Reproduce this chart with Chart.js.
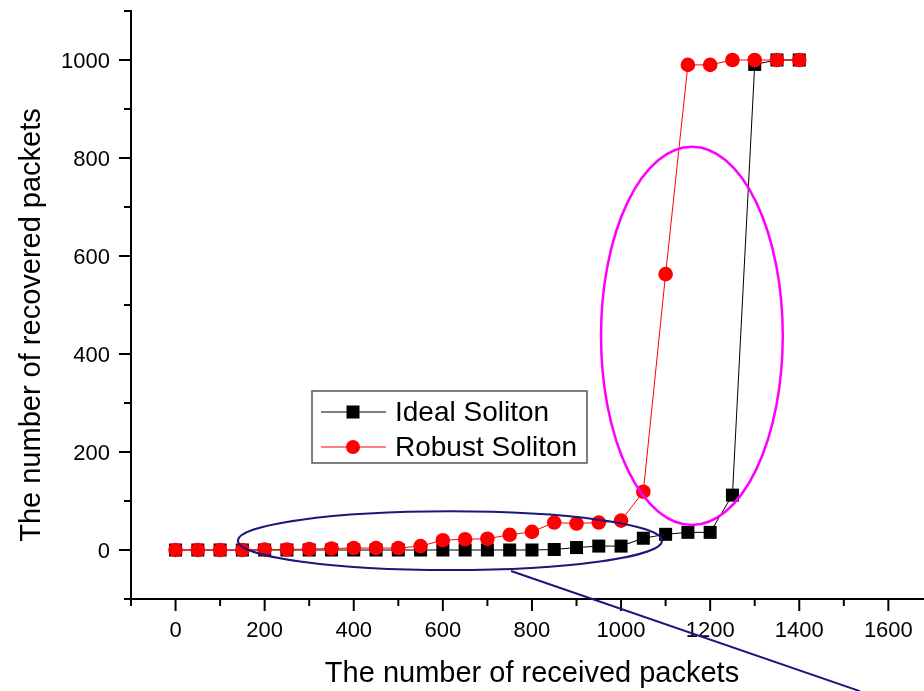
<!DOCTYPE html>
<html>
<head>
<meta charset="utf-8">
<title>Recovered packets</title>
<script src="https://cdn.jsdelivr.net/npm/chart.js@4.4.1/dist/chart.umd.min.js"></script>
<style>
  html, body { margin: 0; padding: 0; background: #fff; overflow: hidden; }
  #chart { display: block; }
</style>
</head>
<body>
<canvas id="chart" width="924" height="691"></canvas>
<script>
// received packets on the x axis, recovered packets for each degree distribution
const received = [0, 50, 100, 150, 200, 250, 300, 350, 400, 450, 500, 550, 600, 650, 700,
                  750, 800, 850, 900, 950, 1000, 1050, 1100, 1150, 1200, 1250, 1300, 1350, 1400];
const idealSoliton = [0, 0, 0, 0, 0, 0, 0, 0, 0, 0, 0, 0, 0, 0, 0,
                      0, 0, 1, 5, 8, 8, 24, 32, 36, 36, 112, 991, 1000, 1000];
const robustSoliton = [0, 0, 0, 0, 1, 1, 2, 3, 4, 4, 4, 8, 20, 22, 23,
                       31, 37, 56, 54, 56, 60, 119, 563, 990, 990, 1000, 1000, 1000, 1000];

const xTickLabels = [0, 200, 400, 600, 800, 1000, 1200, 1400, 1600];
const yTickLabels = [0, 200, 400, 600, 800, 1000];

const FONT = 'Arial, "Liberation Sans", sans-serif';
const NAVY = '#1e167a';

// hand-drawn style highlights, given in data units
const lowRegion = { x: 616, y: 19, rx: 476, ry: 60 };
const jumpRegion = { x: 1159, y: 437, rx: 204, ry: 386 };
const pointer = { x1: 753, y1: -43, x2: 1536, y2: -288 };

function toPoints(values) {
  return received.map((x, i) => ({ x: x, y: values[i] }));
}

// long marks at labelled values, short ones halfway between, all outside the plot
function drawAxis(ctx, scale, labels, horizontal) {
  const step = labels[1] - labels[0];
  ctx.strokeStyle = '#000';
  ctx.lineWidth = 2;
  for (let v = scale.min; v <= scale.max + 0.001; v += step / 2) {
    const len = v % step === 0 ? 12 : 7;
    const p = scale.getPixelForValue(v);
    ctx.beginPath();
    if (horizontal) {
      ctx.moveTo(p, scale.top);
      ctx.lineTo(p, scale.top + len);
    } else {
      ctx.moveTo(scale.right, p);
      ctx.lineTo(scale.right - len, p);
    }
    ctx.stroke();
  }

  ctx.fillStyle = '#000';
  ctx.font = '22px ' + FONT;
  ctx.textBaseline = 'alphabetic';
  labels.forEach(v => {
    const p = scale.getPixelForValue(v);
    if (horizontal) {
      ctx.textAlign = 'center';
      ctx.fillText(String(v), p, scale.top + 38);
    } else {
      ctx.textAlign = 'right';
      ctx.fillText(String(v), scale.right - 21, p + 8);
    }
  });
}

function drawEllipse(ctx, xs, ys, e, color, width) {
  const cx = xs.getPixelForValue(e.x);
  const cy = ys.getPixelForValue(e.y);
  const rx = Math.abs(xs.getPixelForValue(e.x + e.rx) - cx);
  const ry = Math.abs(ys.getPixelForValue(e.y + e.ry) - cy);
  ctx.strokeStyle = color;
  ctx.lineWidth = width;
  ctx.beginPath();
  ctx.ellipse(cx, cy, rx, ry, 0, 0, Math.PI * 2);
  ctx.stroke();
}

function drawLegend(ctx, datasets) {
  const box = { left: 312, top: 391, width: 275, height: 72 };
  ctx.fillStyle = '#fff';
  ctx.fillRect(box.left, box.top, box.width, box.height);
  ctx.strokeStyle = '#555';
  ctx.lineWidth = 1.5;
  ctx.strokeRect(box.left, box.top, box.width, box.height);

  const rows = [412, 447];
  datasets.forEach((ds, i) => {
    const y = rows[i];
    ctx.strokeStyle = ds.borderColor;
    ctx.lineWidth = 1;
    ctx.beginPath();
    ctx.moveTo(321, y);
    ctx.lineTo(386, y);
    ctx.stroke();
    ctx.fillStyle = ds.backgroundColor;
    if (ds.pointStyle === 'rect') {
      ctx.fillRect(353 - 6.5, y - 6.5, 13, 13);
    } else {
      ctx.beginPath();
      ctx.arc(353, y, 7, 0, Math.PI * 2);
      ctx.fill();
    }
    ctx.fillStyle = '#000';
    ctx.font = '28px ' + FONT;
    ctx.textAlign = 'left';
    ctx.textBaseline = 'alphabetic';
    ctx.fillText(ds.label, 395, y + 9);
  });
}

const decorations = {
  id: 'decorations',
  afterDraw(chart) {
    const ctx = chart.ctx;
    const xs = chart.scales.x;
    const ys = chart.scales.y;
    ctx.save();

    drawAxis(ctx, xs, xTickLabels, true);
    drawAxis(ctx, ys, yTickLabels, false);

    // axis titles
    ctx.fillStyle = '#000';
    ctx.font = '29px ' + FONT;
    ctx.textAlign = 'center';
    ctx.textBaseline = 'alphabetic';
    ctx.fillText('The number of received packets', 532, 682);
    ctx.save();
    ctx.translate(39.5, 325);
    ctx.rotate(-Math.PI / 2);
    ctx.fillText('The number of recovered packets', 0, 0);
    ctx.restore();

    // highlighted regions
    drawEllipse(ctx, xs, ys, lowRegion, NAVY, 2);
    ctx.beginPath();
    ctx.moveTo(xs.getPixelForValue(pointer.x1), ys.getPixelForValue(pointer.y1));
    ctx.lineTo(xs.getPixelForValue(pointer.x2), ys.getPixelForValue(pointer.y2));
    ctx.stroke();
    drawEllipse(ctx, xs, ys, jumpRegion, '#ff00ff', 2.5);

    drawLegend(ctx, chart.data.datasets);
    ctx.restore();
  }
};

const ctx = document.getElementById('chart').getContext('2d');
const chart = new Chart(ctx, {
  type: 'line',
  data: {
    datasets: [
      {
        label: 'Ideal Soliton',
        data: toPoints(idealSoliton),
        borderColor: '#000000',
        backgroundColor: '#000000',
        borderWidth: 1,
        pointStyle: 'rect',
        pointRadius: 9.2,
        pointBorderWidth: 0,
        order: 2
      },
      {
        label: 'Robust Soliton',
        data: toPoints(robustSoliton),
        borderColor: '#ff0000',
        backgroundColor: '#ff0000',
        borderWidth: 1,
        pointStyle: 'circle',
        pointRadius: 7.3,
        pointBorderWidth: 0,
        order: 1
      }
    ]
  },
  options: {
    responsive: false,
    animation: false,
    layout: { autoPadding: false, padding: { top: 11, left: 0, right: 0, bottom: 0 } },
    plugins: {
      legend: { display: false },
      tooltip: { enabled: false }
    },
    scales: {
      x: {
        type: 'linear',
        min: -100,
        max: 1680,
        afterFit(scale) { scale.height = 92; },
        grid: { display: false },
        border: { color: '#000', width: 2 },
        ticks: { display: false }
      },
      y: {
        type: 'linear',
        min: -100,
        max: 1100,
        afterFit(scale) { scale.width = 131; },
        grid: { display: false },
        border: { color: '#000', width: 2 },
        ticks: { display: false }
      }
    }
  },
  plugins: [decorations]
});
</script>
</body>
</html>
